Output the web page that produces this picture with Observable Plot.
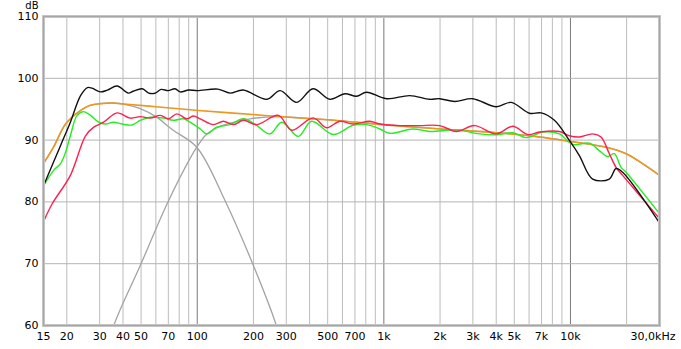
<!DOCTYPE html>
<html>
<head>
<meta charset="utf-8">
<script src="https://cdn.jsdelivr.net/npm/d3@7"></script>
<script src="https://cdn.jsdelivr.net/npm/@observablehq/plot@0.6"></script>
<style>
  html, body { margin: 0; padding: 0; background: #fff; }
  #chart svg { display: block; }
</style>
</head>
<body>
<div id="chart"></div>
<script>
// ---- tick labels ----
const freqTicks  = [15, 20, 30, 40, 50, 70, 100, 200, 300, 500, 700, 1000, 2000, 3000, 4000, 5000, 7000, 10000];
const freqLabels = ["15","20","30","40","50","70","100","200","300","500","700","1k","2k","3k","4k","5k","7k","10k"];
const endFreq = 30000;
const endLabel = "30,0kHz";
const dbTicks = [60, 70, 80, 90, 100, 110];
const dbUnit = "dB";
const gridMinor = [20,30,40,50,60,70,80,90,200,300,400,500,600,700,800,900,2000,3000,4000,5000,6000,7000,8000,9000,20000];
const gridMajor = [100, 1000, 10000];
const gridDb = [70, 80, 90, 100];

// ---- series: [frequency Hz, level dB] ----
const blackCurve = [
  [15,82.6],[18.5,89.1],[20.9,92.9],[23.7,97.2],[25.8,98.5],[27.3,98.4],[30.3,97.8],[33,98.1],
  [37.2,98.75],[42.7,97.6],[45.4,97.9],[50.7,98.3],[55,97.6],[59.6,97.6],[64,98.2],[69.9,98.0],
  [76,98.3],[81,97.8],[90,98.1],[100,98.0],[129,98.25],[150,97.6],[176,98.1],[236,96.6],[278,98.0],
  [341,96.1],[417,98.3],[514,96.6],[618,97.5],[714,97.1],[807,97.75],[1033,96.7],[1377,97.2],
  [1760,96.6],[1991,96.7],[2395,96.25],[2990,96.7],[4000,95.4],[4811,96.1],[6027,94.35],[6967,94.4],
  [8204,93.2],[9868,89.95],[11163,87.5],[13150,83.7],[16150,83.7],[17540,85.4],[19030,84.8],[30000,76.6]
];
const greenCurve = [
  [15,82.6],[17,85.1],[18.5,86.2],[19.7,88.05],[20.9,90.7],[22.7,94.0],[24.6,94.6],[26.8,94.0],
  [29.6,92.9],[32.2,92.6],[35.6,92.9],[39.5,92.6],[44.7,92.45],[49.5,93.2],[56,93.7],[66,93.55],
  [74.6,93.2],[84.4,93.45],[91.6,92.9],[103.7,91.8],[112.6,91.0],[127,92.1],[150,92.5],[177,93.45],
  [208,92.4],[245,91.0],[284,92.9],[348,90.6],[410,93.05],[535,90.9],[684,92.4],[807,92.5],
  [951,91.8],[1076,91.1],[1433,91.8],[1760,91.4],[2446,91.65],[3259,91.0],[4002,90.85],[4909,91.2],
  [5791,90.4],[7104,91.3],[8725,91.0],[10278,89.3],[12627,89.5],[14280,88.3],[15810,87.35],
  [17170,87.8],[18660,85.6],[19840,84.8],[30000,78.1]
];
const redCurve = [
  [15,76.8],[16.7,79.7],[20.9,84.3],[25.2,90.7],[27.9,92.1],[31.5,92.9],[37.2,94.4],[43.8,93.55],
  [49.5,93.8],[56,93.55],[63.4,94.0],[70.2,93.45],[77.8,94.25],[88,93.45],[95.5,93.9],[103.7,93.45],
  [122,92.5],[138,93.05],[156,92.5],[177,93.2],[208,92.5],[272,94.0],[321,91.6],[418,93.6],
  [493,92.0],[581,93.05],[684,92.6],[841,93.05],[951,92.6],[1217,92.35],[1557,92.35],[1991,92.35],
  [2446,91.4],[3063,92.35],[4002,91.0],[4909,92.25],[5907,90.9],[6822,91.3],[8725,91.4],
  [9868,90.7],[11163,90.5],[13150,91.0],[14580,90.5],[16150,87.8],[17540,85.6],[19030,84.3],[30000,77.3]
];
const orangeCurve = [
  [15,86.2],[17,88.9],[19.7,92.6],[23.7,94.8],[26.5,95.6],[30.3,95.9],[35,96.0],[42,95.8],
  [60,95.4],[91.6,94.9],[150,94.4],[314,93.7],[600,93.1],[1076,92.4],[2000,91.8],[4000,91.2],
  [6822,90.5],[9868,89.8],[15500,88.85],[19840,87.8],[24340,86.2],[30000,84.3]
];
const lowpassGray = [
  [15,86.2],[17,88.9],[19.7,92.6],[23.7,94.8],[26.5,95.6],[30.3,95.9],[35,96.0],[42,95.7],
  [49.5,95.1],[60,93.8],[74.3,91.6],[99.4,88.85],[141,80.2],[200,69.7],[264,60.2],[300,54]
];
const highpassGray = [
  [30,52],[35.7,60],[49.5,69.7],[70.2,80.2],[99.4,88.85],[112.6,91.0],[130,92.1],[150,92.75],
  [192,93.45],[270,93.8],[314,93.7],[600,93.1],[1076,92.4],[2000,91.8],[4000,91.2],
  [6822,90.5],[9868,89.8],[15500,88.85],[19840,87.8],[24340,86.2],[30000,84.3]
];

const FONT = "DejaVu Sans";
const lineOpts = (color, w) => ({x: d => d[0], y: d => d[1], stroke: color, strokeWidth: w, curve: "catmull-rom", clip: true});

const chart = Plot.plot({
  width: 681,
  height: 349,
  marginLeft: 43,
  marginRight: 22,
  marginTop: 16,
  marginBottom: 24,
  x: {type: "log", domain: [15, 30000], axis: null},
  y: {domain: [60, 110], axis: null},
  style: {fontFamily: FONT, background: "#fff"},
  marks: [
    Plot.ruleX(gridMinor, {stroke: "#bcbcbc", strokeWidth: 1}),
    Plot.ruleX(gridMajor, {stroke: "#7a7a7a", strokeWidth: 1}),
    Plot.ruleY(gridDb, {stroke: "#b4b4b4", strokeWidth: 1}),
    Plot.line(lowpassGray, lineOpts("#a3a3a3", 1.3)),
    Plot.line(highpassGray, lineOpts("#a3a3a3", 1.3)),
    Plot.line(orangeCurve, lineOpts("#ec9720", 1.6)),
    Plot.line(greenCurve, lineOpts("#22ee22", 1.4)),
    Plot.line(redCurve, lineOpts("#ff1f4f", 1.4)),
    Plot.line(blackCurve, lineOpts("#111111", 1.4)),
    Plot.frame({stroke: "#c4c4c4", strokeWidth: 3}),
    Plot.frame({stroke: "#a6a6a6", strokeWidth: 1}),
    Plot.text(freqTicks, {x: d => d, y: 60, text: (d, i) => freqLabels[i], dy: 11, fontSize: 11, fill: "#000", textAnchor: "middle"}),
    Plot.text([endFreq], {x: d => d, y: 60, text: [endLabel], dy: 11, dx: 16, fontSize: 11, fill: "#000", textAnchor: "end"}),
    Plot.text(dbTicks, {x: 15, y: d => d, text: d => String(d), dx: -5, fontSize: 11, fill: "#000", textAnchor: "end"}),
    Plot.text([110], {x: 15, y: d => d, text: [dbUnit], dx: -5, dy: -10.5, fontSize: 10, fill: "#000", textAnchor: "end"})
  ]
});
document.getElementById("chart").appendChild(chart);
</script>
</body>
</html>
